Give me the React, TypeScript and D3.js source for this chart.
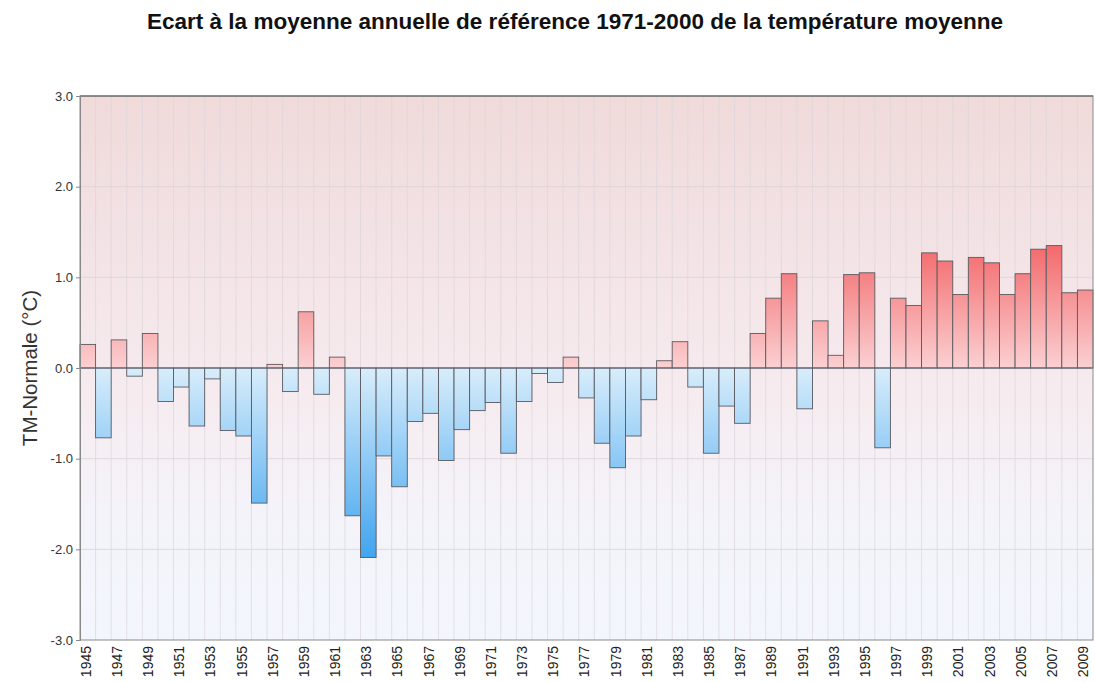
import React, { useEffect, useRef } from 'react';
import * as d3 from 'd3';

const years: number[] = [
  1945, 1946, 1947, 1948, 1949, 1950, 1951, 1952, 1953, 1954,
  1955, 1956, 1957, 1958, 1959, 1960, 1961, 1962, 1963, 1964,
  1965, 1966, 1967, 1968, 1969, 1970, 1971, 1972, 1973, 1974,
  1975, 1976, 1977, 1978, 1979, 1980, 1981, 1982, 1983, 1984,
  1985, 1986, 1987, 1988, 1989, 1990, 1991, 1992, 1993, 1994,
  1995, 1996, 1997, 1998, 1999, 2000, 2001, 2002, 2003, 2004,
  2005, 2006, 2007, 2008, 2009,
];

// ecart a la normale 1971-2000 (degC)
const anomalies: number[] = [
  0.26, -0.77, 0.31, -0.09, 0.38, -0.37, -0.21, -0.64, -0.12, -0.69,
  -0.75, -1.49, 0.04, -0.26, 0.62, -0.29, 0.12, -1.63, -2.09, -0.97,
  -1.31, -0.59, -0.50, -1.02, -0.68, -0.47, -0.38, -0.94, -0.37, -0.06,
  -0.16, 0.12, -0.33, -0.83, -1.10, -0.75, -0.35, 0.08, 0.29, -0.21,
  -0.94, -0.42, -0.61, 0.38, 0.77, 1.04, -0.45, 0.52, 0.14, 1.03,
  1.05, -0.88, 0.77, 0.69, 1.27, 1.18, 0.81, 1.22, 1.16, 0.81,
  1.04, 1.31, 1.35, 0.83, 0.86,
];

const yTicks: number[] = [-3, -2, -1, 0, 1, 2, 3];

const FONT = 'Liberation Sans, Arial, sans-serif';

const App: React.FC = () => {
  const svgRef = useRef<SVGSVGElement>(null);

  useEffect(() => {
    if (!svgRef.current) return;
    const width = 1095;
    const height = 682;
    const m = { left: 80, right: 2, top: 96, bottom: 42 };

    d3.select(svgRef.current).selectAll('*').remove();
    const svg = d3.select(svgRef.current).attr('width', width).attr('height', height);

    const x = d3.scaleBand<number>()
      .domain(years)
      .range([m.left, width - m.right])
      .padding(0);
    const y = d3.scaleLinear().domain([-3, 3]).range([height - m.bottom, m.top]);

    const defs = svg.append('defs');

    // background of the plot area
    const bg = defs.append('linearGradient')
      .attr('id', 'bg')
      .attr('gradientUnits', 'userSpaceOnUse')
      .attr('x1', 0).attr('x2', 0)
      .attr('y1', y(3)).attr('y2', y(-3));
    bg.append('stop').attr('offset', '0%').attr('stop-color', '#f0dada');
    bg.append('stop').attr('offset', '35%').attr('stop-color', '#f4e5e8');
    bg.append('stop').attr('offset', '55%').attr('stop-color', '#f6ebef');
    bg.append('stop').attr('offset', '75%').attr('stop-color', '#f4f3f9');
    bg.append('stop').attr('offset', '100%').attr('stop-color', '#f2f7fd');

    const red = defs.append('linearGradient')
      .attr('id', 'redFill')
      .attr('gradientUnits', 'userSpaceOnUse')
      .attr('x1', 0).attr('x2', 0)
      .attr('y1', y(0)).attr('y2', y(1.4));
    red.append('stop').attr('offset', '0%').attr('stop-color', '#fbd0d2');
    red.append('stop').attr('offset', '100%').attr('stop-color', '#f26668');

    const blue = defs.append('linearGradient')
      .attr('id', 'blueFill')
      .attr('gradientUnits', 'userSpaceOnUse')
      .attr('x1', 0).attr('x2', 0)
      .attr('y1', y(0)).attr('y2', y(-2.1));
    blue.append('stop').attr('offset', '0%').attr('stop-color', '#d8edfb');
    blue.append('stop').attr('offset', '100%').attr('stop-color', '#40a4ef');

    svg.append('rect')
      .attr('x', m.left).attr('y', m.top)
      .attr('width', width - m.right - m.left)
      .attr('height', y(-3) - y(3))
      .attr('fill', 'url(#bg)');

    // vertical grid, one per year
    svg.append('g')
      .selectAll('line')
      .data(years.slice(1))
      .enter()
      .append('line')
      .attr('x1', d => x(d)!)
      .attr('x2', d => x(d)!)
      .attr('y1', y(3))
      .attr('y2', y(-3))
      .attr('stroke', '#dcd6dc')
      .attr('stroke-opacity', 0.7)
      .attr('stroke-width', 1);

    svg.append('g')
      .selectAll('line')
      .data(yTicks.filter(t => t !== 0 && t !== 3 && t !== -3))
      .enter()
      .append('line')
      .attr('x1', m.left).attr('x2', width - m.right)
      .attr('y1', d => y(d)).attr('y2', d => y(d))
      .attr('stroke', '#e2d6d8')
      .attr('stroke-width', 1);

    // bars
    svg.append('g')
      .selectAll('rect')
      .data(anomalies)
      .enter()
      .append('rect')
      .attr('x', (d, i) => x(years[i])!)
      .attr('width', x.bandwidth())
      .attr('y', d => (d >= 0 ? y(d) : y(0)))
      .attr('height', d => Math.abs(y(d) - y(0)))
      .attr('fill', d => (d >= 0 ? 'url(#redFill)' : 'url(#blueFill)'))
      .attr('stroke', '#5a5a60')
      .attr('stroke-width', 0.9);

    // zero line
    svg.append('line')
      .attr('x1', m.left).attr('x2', width - m.right)
      .attr('y1', y(0)).attr('y2', y(0))
      .attr('stroke', '#5a6070')
      .attr('stroke-width', 1);

    // frame
    svg.append('rect')
      .attr('x', m.left).attr('y', m.top)
      .attr('width', width - m.right - m.left)
      .attr('height', y(-3) - y(3))
      .attr('fill', 'none')
      .attr('stroke', '#8a8a8a')
      .attr('stroke-width', 1);
    svg.append('line')
      .attr('x1', m.left).attr('x2', width - m.right)
      .attr('y1', m.top).attr('y2', m.top)
      .attr('stroke', '#555')
      .attr('stroke-width', 1.2);

    // y axis
    const fmt = d3.format('.1f');
    const yAxis = d3.axisLeft(y)
      .tickValues(yTicks)
      .tickFormat(d => fmt(d as number).replace('\u2212', '-'))
      .tickSize(4)
      .tickPadding(3);
    const gy = svg.append('g')
      .attr('transform', `translate(${m.left},0)`)
      .call(yAxis);
    gy.select('.domain').attr('stroke', '#888');
    gy.selectAll('.tick line').attr('stroke', '#888');
    gy.selectAll('.tick text')
      .attr('fill', '#333')
      .attr('font-family', FONT)
      .attr('font-size', 13);

    // x axis labels, every other year
    const xAxis = d3.axisBottom(x)
      .tickValues(years.filter((d, i) => i % 2 === 0))
      .tickSize(0)
      .tickPadding(0);
    const gx = svg.append('g')
      .attr('transform', `translate(0,${y(-3)})`)
      .call(xAxis);
    gx.select('.domain').remove();
    gx.selectAll('.tick text')
      .attr('transform', 'rotate(-90)')
      .attr('x', -6)
      .attr('y', -2)
      .attr('dy', '0.35em')
      .attr('text-anchor', 'end')
      .attr('fill', '#222')
      .attr('font-family', FONT)
      .attr('font-size', 14);

    svg.append('text')
      .attr('transform', `translate(37,${y(0)}) rotate(-90)`)
      .attr('text-anchor', 'middle')
      .attr('fill', '#333')
      .attr('font-family', FONT)
      .attr('font-size', 20.5)
      .text('TM-Normale (°C)');

    svg.append('text')
      .attr('x', 575)
      .attr('y', 29)
      .attr('text-anchor', 'middle')
      .attr('fill', '#111')
      .attr('font-family', FONT)
      .attr('font-weight', 'bold')
      .attr('font-size', 22)
      .attr('textLength', 856)
      .attr('lengthAdjust', 'spacingAndGlyphs')
      .text('Ecart à la moyenne annuelle de référence 1971-2000 de la température moyenne');
  }, []);

  return (
    <div style={{ position: 'absolute', left: 0, top: 0, background: '#fff' }}>
      <svg ref={svgRef}></svg>
    </div>
  );
};

export default App;
